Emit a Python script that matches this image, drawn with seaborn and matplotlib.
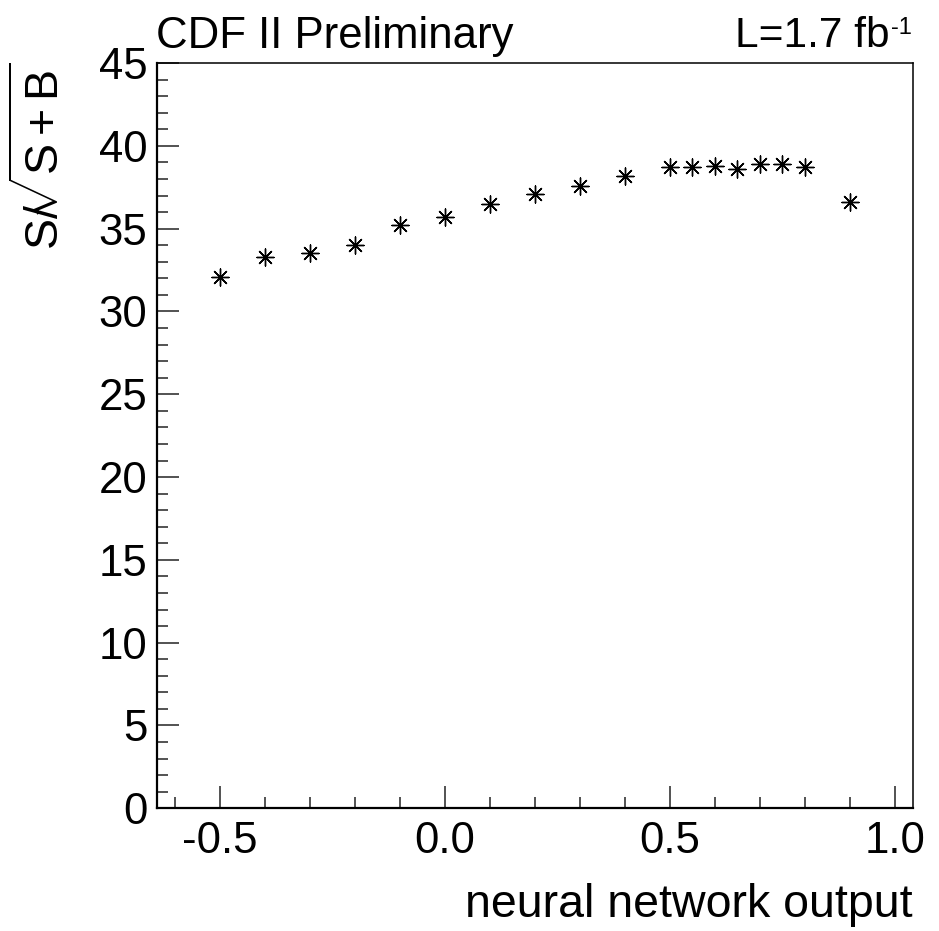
import matplotlib
matplotlib.use("Agg")
import matplotlib.pyplot as plt
from matplotlib.ticker import MultipleLocator, FormatStrFormatter
import seaborn as sns
import pandas as pd

nn_output = [-0.5, -0.4, -0.3, -0.2, -0.1, 0.0, 0.1, 0.2, 0.3, 0.4,
             0.5, 0.55, 0.6, 0.65, 0.7, 0.75, 0.8, 0.9]
significance = [32.1, 33.3, 33.5, 34.0, 35.2, 35.7, 36.5, 37.1, 37.6, 38.2,
                38.75, 38.75, 38.8, 38.6, 38.9, 38.9, 38.7, 36.6]

title_left = "CDF II Preliminary"
lumi_text = "L=1.7 fb"
lumi_sup = "-1"
x_label = "neural network output"
y_label = r"$\mathregular{S/\!\!\sqrt{S+B}}$"

df = pd.DataFrame({"x": nn_output, "y": significance})

sns.set_theme(style="white")
plt.rcParams["font.family"] = ["Liberation Sans", "DejaVu Sans"]
plt.rcParams["mathtext.fontset"] = "custom"
plt.rcParams["mathtext.rm"] = "Liberation Sans"
plt.rcParams["mathtext.it"] = "Liberation Sans"
plt.rcParams["mathtext.sf"] = "Liberation Sans"
plt.rcParams["text.color"] = "black"
plt.rcParams["axes.labelcolor"] = "black"

FS = 31.5

fig = plt.figure(figsize=(9.39, 9.31), dpi=100)
ax = fig.add_axes([0.1672, 0.1318, 0.8048, 0.8005])

sns.scatterplot(data=df, x="x", y="y", ax=ax, marker=(8, 2, 0), s=150,
                color="black", linewidth=1.0, legend=False)

ax.set_xlim(-0.64, 1.04)
ax.set_ylim(0, 45)
ax.xaxis.set_major_locator(MultipleLocator(0.5))
ax.xaxis.set_minor_locator(MultipleLocator(0.1))
ax.xaxis.set_major_formatter(FormatStrFormatter("%.1f"))
ax.yaxis.set_major_locator(MultipleLocator(5))
ax.yaxis.set_minor_locator(MultipleLocator(1))

ax.tick_params(axis="both", which="major", direction="in", length=16, width=1.3,
               color="#444444", labelsize=FS, labelcolor="black",
               top=False, right=False, bottom=True, left=True)
ax.tick_params(axis="both", which="minor", direction="in", length=8, width=1.3,
               color="#444444", top=False, right=False, bottom=True, left=True)
ax.tick_params(axis="x", which="major", pad=9)
ax.tick_params(axis="y", which="major", pad=7)

for side, lw in [("left", 1.6), ("bottom", 1.6), ("right", 1.1), ("top", 1.1)]:
    ax.spines[side].set_visible(True)
    ax.spines[side].set_color("black")
    ax.spines[side].set_linewidth(lw)

ax.set_xlabel("")
ax.set_ylabel("")
fig.text(0.9715, 0.0150, x_label, ha="right", va="baseline", fontsize=33.5)
fig.text(0.045, 0.933, y_label, ha="center", va="top", rotation=90, fontsize=33.5)
fig.text(0.166, 0.9485, title_left, ha="left", va="baseline", fontsize=FS)

# luminosity label with small raised "-1"
sup = fig.text(0.9715, 0.9640, lumi_sup, ha="right", va="baseline", fontsize=17)
fig.canvas.draw()
renderer = fig.canvas.get_renderer()
sup_bb = sup.get_window_extent(renderer)
x_main = (sup_bb.x0 - 2) / fig.bbox.width
fig.text(x_main, 0.9495, lumi_text, ha="right", va="baseline", fontsize=30.5)

fig.savefig("out.png", dpi=100, facecolor="white")
